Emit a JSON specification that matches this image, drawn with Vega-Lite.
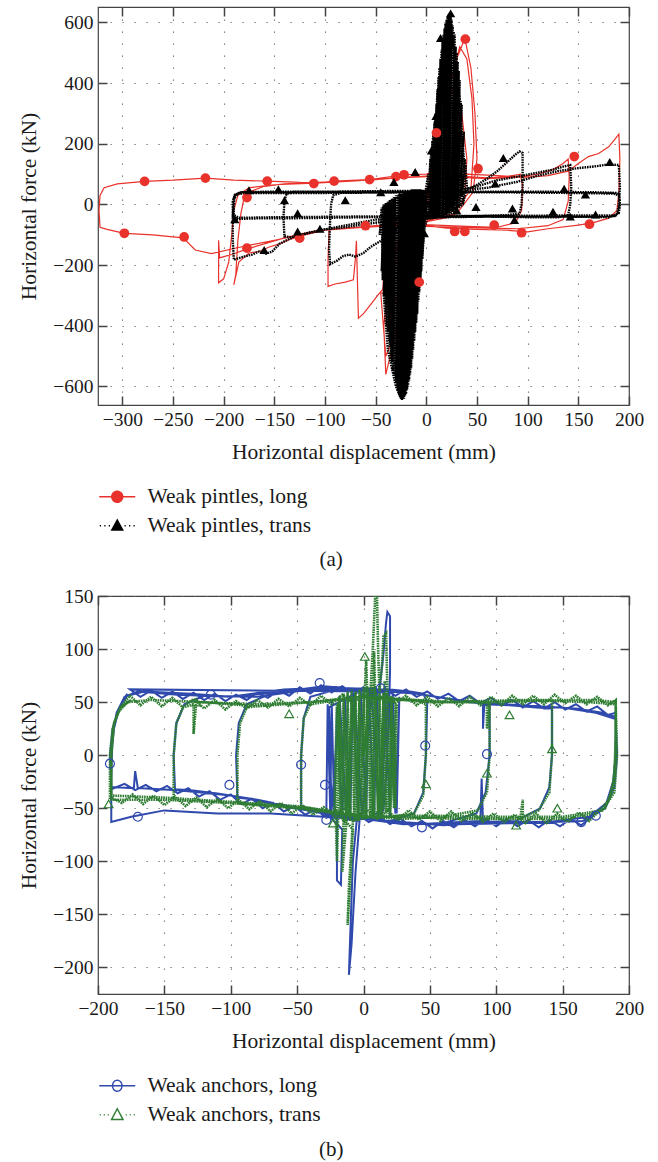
{
  "$schema": "https://vega.github.io/schema/vega-lite/v6.json",
  "background": "white",
  "padding": {"left": 18, "top": 5, "right": 5, "bottom": 0},
  "spacing": 14,
  "resolve": {"scale": {"color": "independent"}, "legend": {"color": "independent"}},
  "config": {
    "font": "Liberation Serif",
    "view": {"stroke": "#444", "strokeWidth": 1.2},
    "axis": {
      "domain": false,
      "labelFont": "Liberation Serif", "labelFontSize": 19.5, "labelColor": "#1a1a1a",
      "titleFont": "Liberation Serif", "titleFontSize": 21.5, "titleFontWeight": "normal", "titleColor": "#1a1a1a",
      "tickColor": "#444", "tickWidth": 1.5, "tickSize": -9, "labelPadding": 14,
      "grid": true, "gridColor": "#666", "gridDash": [1.2, 10.8], "gridWidth": 1.1,
      "labelFlush": false, "labelOverlap": false
    },
    "axisX": {"titlePadding": 13},
    "axisY": {"titlePadding": 12},
    "legend": {
      "padding": 0, "symbolSize": 100, "labelFont": "Liberation Serif", "labelFontSize": 21.5,
      "labelColor": "#1a1a1a", "labelOffset": 19.5, "rowPadding": 6, "labelLimit": 400
    },
    "title": {"font": "Liberation Serif", "fontSize": 21, "fontWeight": "normal", "color": "#1a1a1a", "anchor": "middle", "frame": "bounds"}
  },
  "datasets": {
    "aL": [
      {"x":0,"y":0},{"x":10,"y":150},{"x":20,"y":350},{"x":30,"y":480},{"x":38,"y":548},{"x":44,"y":450},{"x":48,"y":300},{"x":50,"y":150},{"x":46,"y":40},{"x":30,"y":-30},{"x":0,"y":-50},{"x":-20,"y":-80},{"x":-35,"y":-200},{"x":-42,"y":-400},{"x":-40,"y":-560},{"x":-32,"y":-450},{"x":-22,"y":-250},{"x":-10,"y":-60},{"x":0,"y":0},
      {"x":5,"y":60},{"x":15,"y":250},{"x":25,"y":420},{"x":33,"y":520},{"x":40,"y":480},{"x":45,"y":350},{"x":47,"y":200},{"x":44,"y":50},{"x":25,"y":-40},{"x":-5,"y":-60},{"x":-28,"y":-120},{"x":-38,"y":-300},{"x":-45,"y":-290},{"x":-40,"y":-500},{"x":-30,"y":-420},{"x":-18,"y":-200},{"x":-7,"y":-50},{"x":5,"y":60},
      {"x":8,"y":100},{"x":16,"y":280},{"x":28,"y":400},{"x":35,"y":300},{"x":40,"y":150},{"x":38,"y":40},{"x":20,"y":-30},{"x":-10,"y":-70},{"x":-30,"y":-180},{"x":-36,"y":-350},{"x":-28,"y":-300},{"x":-15,"y":-150},{"x":-5,"y":-30},{"x":8,"y":100},
      {"x":20,"y":95},{"x":40,"y":92},{"x":60,"y":88},{"x":80,"y":92},{"x":93,"y":100},{"x":95,"y":60},{"x":94,"y":-20},{"x":88,"y":-60},{"x":70,"y":-75},{"x":40,"y":-72},{"x":10,"y":-68},{"x":-20,"y":-65},{"x":-50,"y":-70},{"x":-75,"y":-78},{"x":-90,"y":-80},{"x":-96,"y":-85},{"x":-97,"y":-180},{"x":-97,"y":-270},{"x":-90,"y":-262},{"x":-80,"y":-256},{"x":-72,"y":-248},{"x":-70,"y":-180},{"x":-69,"y":-120},{"x":-68,"y":-250},{"x":-67,"y":-375},{"x":-62,"y":-360},{"x":-55,"y":-330},{"x":-48,"y":-300},{"x":-43,"y":-280},{"x":-40,"y":-150},{"x":-30,"y":-60},{"x":-10,"y":20},{"x":10,"y":80},
      {"x":30,"y":90},{"x":60,"y":85},{"x":90,"y":90},{"x":110,"y":100},{"x":125,"y":115},{"x":135,"y":135},{"x":140,"y":150},{"x":141,"y":90},{"x":140,"y":10},{"x":135,"y":-50},{"x":120,"y":-70},{"x":90,"y":-80},{"x":60,"y":-78},{"x":30,"y":-75},{"x":0,"y":-72},{"x":-30,"y":-70},{"x":-60,"y":-75},{"x":-100,"y":-85},{"x":-120,"y":-100},{"x":-135,"y":-115},{"x":-145,"y":-130},{"x":-155,"y":-140},{"x":-165,"y":-155},{"x":-175,"y":-160},{"x":-185,"y":-190},{"x":-190,"y":-265},{"x":-188,"y":-230},{"x":-186,"y":-120},{"x":-183,"y":-30},{"x":-180,"y":20},{"x":-172,"y":45},{"x":-160,"y":60},{"x":-140,"y":68},{"x":-110,"y":72},{"x":-80,"y":78},{"x":-50,"y":82},{"x":-20,"y":90},{"x":10,"y":95},
      {"x":40,"y":100},{"x":70,"y":95},{"x":100,"y":90},{"x":120,"y":95},{"x":140,"y":110},{"x":150,"y":135},{"x":160,"y":158},{"x":170,"y":168},{"x":180,"y":190},{"x":186,"y":215},{"x":190,"y":232},{"x":191,"y":150},{"x":190,"y":40},{"x":188,"y":-20},{"x":180,"y":-45},{"x":165,"y":-60},{"x":150,"y":-68},{"x":120,"y":-80},{"x":100,"y":-90},{"x":80,"y":-85},{"x":50,"y":-82},{"x":20,"y":-78},{"x":0,"y":-70},{"x":-40,"y":-70},{"x":-80,"y":-78},{"x":-110,"y":-88},{"x":-140,"y":-110},{"x":-160,"y":-130},{"x":-178,"y":-148},{"x":-192,"y":-165},{"x":-198,"y":-170},{"x":-204,"y":-176},{"x":-205,"y":-118},{"x":-205,"y":-258},{"x":-200,"y":-245},{"x":-195,"y":-190},{"x":-192,"y":-100},{"x":-190,"y":-20},{"x":-186,"y":30},{"x":-175,"y":55},{"x":-150,"y":65},{"x":-110,"y":70},{"x":-70,"y":78},{"x":-30,"y":88},{"x":0,"y":92},
      {"x":20,"y":60},{"x":10,"y":0},{"x":0,"y":-62},{"x":-50,"y":-72},{"x":-100,"y":-85},{"x":-150,"y":-118},{"x":-190,"y":-145},{"x":-212,"y":-162},{"x":-228,"y":-150},{"x":-240,"y":-110},{"x":-270,"y":-100},{"x":-298,"y":-95},{"x":-315,"y":-82},{"x":-322,"y":-75},{"x":-323,"y":-20},{"x":-322,"y":30},{"x":-318,"y":55},{"x":-305,"y":68},{"x":-278,"y":76},{"x":-250,"y":80},{"x":-218,"y":87},{"x":-190,"y":80},{"x":-157,"y":77},{"x":-130,"y":74},{"x":-111,"y":70},{"x":-91,"y":77},{"x":-56,"y":82},{"x":-22,"y":98},{"x":0,"y":100},{"x":10,"y":110}
    ],
    "aT": [
      {"x":-5,"y":-40},{"x":2,"y":100},{"x":0,"y":-45},{"x":5,"y":180},{"x":2,"y":-45},{"x":7,"y":240},{"x":4,"y":-45},{"x":9,"y":300},{"x":6,"y":-45},{"x":11,"y":380},{"x":8,"y":-45},{"x":13,"y":450},{"x":10,"y":-45},{"x":15,"y":510},{"x":12,"y":-40},{"x":17,"y":560},{"x":14,"y":-40},{"x":19,"y":600},{"x":16,"y":-40},{"x":21,"y":620},{"x":18,"y":-35},{"x":23,"y":630},{"x":20,"y":-35},{"x":25,"y":610},{"x":22,"y":-30},{"x":27,"y":570},{"x":24,"y":-30},{"x":29,"y":520},{"x":26,"y":-25},{"x":31,"y":470},{"x":28,"y":-20},{"x":33,"y":410},{"x":30,"y":-15},{"x":35,"y":330},{"x":32,"y":-10},{"x":37,"y":240},{"x":34,"y":-5},{"x":39,"y":130},{"x":36,"y":0},{"x":40,"y":60},
      {"x":38,"y":150},{"x":35,"y":30},{"x":34,"y":340},{"x":31,"y":20},{"x":32,"y":440},{"x":29,"y":10},{"x":30,"y":500},{"x":27,"y":0},{"x":28,"y":560},{"x":25,"y":-10},{"x":26,"y":590},{"x":23,"y":-20},{"x":24,"y":620},{"x":21,"y":-30},{"x":22,"y":625},{"x":19,"y":-30},{"x":20,"y":610},{"x":17,"y":-35},{"x":18,"y":580},{"x":15,"y":-40},{"x":16,"y":540},{"x":13,"y":-40},{"x":14,"y":480},{"x":11,"y":-45},{"x":12,"y":420},{"x":9,"y":-45},{"x":10,"y":330},{"x":7,"y":-45},{"x":8,"y":270},{"x":5,"y":-45},{"x":6,"y":210},{"x":3,"y":-45},{"x":4,"y":150},{"x":1,"y":-45},
      {"x":-2,"y":-80},{"x":0,"y":40},{"x":-4,"y":-180},{"x":-2,"y":45},{"x":-6,"y":-260},{"x":-4,"y":45},{"x":-8,"y":-320},{"x":-6,"y":50},{"x":-10,"y":-390},{"x":-8,"y":50},{"x":-12,"y":-450},{"x":-10,"y":50},{"x":-14,"y":-510},{"x":-12,"y":50},{"x":-16,"y":-560},{"x":-14,"y":50},{"x":-18,"y":-600},{"x":-16,"y":45},{"x":-20,"y":-625},{"x":-18,"y":45},{"x":-22,"y":-640},{"x":-20,"y":40},{"x":-24,"y":-645},{"x":-22,"y":40},{"x":-26,"y":-635},{"x":-24,"y":35},{"x":-28,"y":-615},{"x":-26,"y":35},{"x":-30,"y":-590},{"x":-28,"y":30},{"x":-32,"y":-560},{"x":-30,"y":30},{"x":-34,"y":-520},{"x":-32,"y":25},{"x":-36,"y":-470},{"x":-34,"y":20},{"x":-38,"y":-420},{"x":-36,"y":15},{"x":-40,"y":-360},{"x":-38,"y":10},{"x":-42,"y":-300},{"x":-40,"y":5},{"x":-44,"y":-220},{"x":-42,"y":0},{"x":-46,"y":-100},{"x":-44,"y":-10},
      {"x":-43,"y":-250},{"x":-41,"y":0},{"x":-41,"y":-330},{"x":-39,"y":5},{"x":-39,"y":-400},{"x":-37,"y":10},{"x":-37,"y":-450},{"x":-35,"y":15},{"x":-35,"y":-500},{"x":-33,"y":20},{"x":-33,"y":-545},{"x":-31,"y":25},{"x":-31,"y":-575},{"x":-29,"y":30},{"x":-29,"y":-600},{"x":-27,"y":35},{"x":-27,"y":-625},{"x":-25,"y":35},{"x":-25,"y":-640},{"x":-23,"y":40},{"x":-23,"y":-640},{"x":-21,"y":40},{"x":-21,"y":-630},{"x":-19,"y":45},{"x":-19,"y":-610},{"x":-17,"y":45},{"x":-17,"y":-580},{"x":-15,"y":50},{"x":-15,"y":-540},{"x":-13,"y":50},{"x":-13,"y":-480},{"x":-11,"y":50},{"x":-11,"y":-420},{"x":-9,"y":50},{"x":-9,"y":-360},{"x":-7,"y":45},{"x":-7,"y":-290},{"x":-5,"y":45},{"x":-5,"y":-220},{"x":-3,"y":40},{"x":-3,"y":-130},{"x":0,"y":0},
      {"x":-25,"y":-640},{"x":-18,"y":-400},{"x":-10,"y":-120},{"x":-2,"y":0},{"x":8,"y":150},{"x":12,"y":350},{"x":18,"y":550},{"x":22,"y":625},{"x":28,"y":500},{"x":33,"y":350},{"x":38,"y":100},{"x":36,"y":0},{"x":20,"y":-40},{"x":-10,"y":-50},{"x":-35,"y":-100},{"x":-42,"y":-300},{"x":-38,"y":-480},{"x":-30,"y":-600},{"x":-25,"y":-640},
      {"x":-28,"y":-300},{"x":-15,"y":-60},{"x":0,"y":0},{"x":20,"y":30},
      {"x":35,"y":40},{"x":50,"y":65},{"x":60,"y":85},{"x":70,"y":110},{"x":80,"y":140},{"x":88,"y":165},{"x":92,"y":175},{"x":95,"y":170},{"x":95,"y":60},{"x":94,"y":0},{"x":92,"y":-30},{"x":80,"y":-35},{"x":50,"y":-38},{"x":20,"y":-40},{"x":0,"y":-45},{"x":-20,"y":-60},{"x":-35,"y":-90},{"x":-45,"y":-120},{"x":-55,"y":-140},{"x":-62,"y":-160},{"x":-70,"y":-172},{"x":-76,"y":-165},{"x":-82,"y":-170},{"x":-88,"y":-185},{"x":-95,"y":-197},{"x":-96,"y":-150},{"x":-95,"y":-60},{"x":-94,"y":0},{"x":-92,"y":30},{"x":-85,"y":38},{"x":-60,"y":40},{"x":-20,"y":42},{"x":0,"y":45},{"x":30,"y":50},
      {"x":45,"y":55},{"x":70,"y":80},{"x":95,"y":95},{"x":110,"y":105},{"x":125,"y":115},{"x":135,"y":125},{"x":142,"y":130},{"x":143,"y":60},{"x":142,"y":0},{"x":140,"y":-35},{"x":130,"y":-42},{"x":100,"y":-42},{"x":60,"y":-40},{"x":20,"y":-42},{"x":-20,"y":-48},{"x":-50,"y":-60},{"x":-80,"y":-75},{"x":-100,"y":-82},{"x":-115,"y":-92},{"x":-125,"y":-100},{"x":-133,"y":-108},{"x":-140,"y":-105},{"x":-141,"y":-40},{"x":-140,"y":10},{"x":-138,"y":35},{"x":-130,"y":42},{"x":-100,"y":42},{"x":-50,"y":44},{"x":0,"y":45},{"x":40,"y":48},
      {"x":60,"y":55},{"x":90,"y":75},{"x":110,"y":95},{"x":130,"y":110},{"x":150,"y":120},{"x":165,"y":125},{"x":180,"y":132},{"x":190,"y":130},{"x":191,"y":60},{"x":190,"y":0},{"x":188,"y":-35},{"x":180,"y":-42},{"x":140,"y":-40},{"x":100,"y":-40},{"x":50,"y":-40},{"x":0,"y":-42},{"x":-50,"y":-50},{"x":-100,"y":-82},{"x":-130,"y":-105},{"x":-145,"y":-130},{"x":-152,"y":-155},{"x":-158,"y":-162},{"x":-165,"y":-155},{"x":-172,"y":-165},{"x":-180,"y":-172},{"x":-190,"y":-182},{"x":-191,"y":-120},{"x":-191,"y":-40},{"x":-190,"y":0},{"x":-189,"y":30},{"x":-184,"y":40},{"x":-160,"y":42},{"x":-100,"y":42},{"x":-50,"y":42},{"x":0,"y":42},{"x":60,"y":42},{"x":120,"y":42},{"x":170,"y":40},{"x":188,"y":38},
      {"x":190,"y":36},{"x":191,"y":10},{"x":190,"y":-25},{"x":186,"y":-38},{"x":150,"y":-40},{"x":100,"y":-40},{"x":50,"y":-40},{"x":0,"y":-40},{"x":-60,"y":-42},{"x":-120,"y":-45},{"x":-170,"y":-46},{"x":-188,"y":-48},{"x":-191,"y":-40},{"x":-191,"y":10},{"x":-189,"y":32},{"x":-183,"y":40},{"x":-140,"y":40},{"x":-80,"y":40},{"x":0,"y":40},{"x":80,"y":40},{"x":140,"y":38},{"x":185,"y":36},{"x":190,"y":30},{"x":191,"y":0},{"x":190,"y":-28},{"x":185,"y":-36},{"x":140,"y":-36},{"x":60,"y":-38},{"x":0,"y":-38},{"x":-80,"y":-40},{"x":-150,"y":-42},{"x":-185,"y":-44},{"x":-190,"y":-35},{"x":-190,"y":20},{"x":-186,"y":35},{"x":-170,"y":38},{"x":-100,"y":38},{"x":-20,"y":40},{"x":10,"y":45}
    ],
    "aLm": [
      {"x":-278,"y":76},{"x":-218,"y":87},{"x":-157,"y":77},{"x":-111,"y":69},{"x":-91,"y":77},{"x":-56,"y":82},{"x":-22,"y":98},{"x":10,"y":236},{"x":38.5,"y":545},{"x":51,"y":118},{"x":146,"y":158},{"x":-298,"y":-95},{"x":-239,"y":-107},{"x":-177,"y":-144},{"x":-125,"y":-111},{"x":-7,"y":-256},{"x":28,"y":-89},{"x":38,"y":-89},{"x":94,"y":-93},{"x":161,"y":-65},{"x":67,"y":-68},{"x":-177,"y":23},{"x":-60,"y":-70},{"x":-30,"y":92}
    ],
    "aTm": [
      {"x":24,"y":630},{"x":14,"y":549},{"x":9.5,"y":292},{"x":5,"y":178},{"x":-175,"y":47},{"x":-146,"y":50},{"x":-140,"y":14},{"x":-189,"y":-49},{"x":-127,"y":-29},{"x":-127,"y":-89},{"x":-32,"y":74},{"x":-11,"y":107},{"x":-1,"y":9},{"x":76,"y":153},{"x":49,"y":-8},{"x":85,"y":-13},{"x":87,"y":-51},{"x":136,"y":52},{"x":142,"y":-40},{"x":157,"y":33},{"x":167,"y":-33},{"x":181,"y":140},{"x":125,"y":-24},{"x":68,"y":69},{"x":-80,"y":14},{"x":-2,"y":-95},{"x":-160,"y":-150},{"x":-105,"y":-80},{"x":-45,"y":40},{"x":0,"y":-30},{"x":10,"y":50},{"x":30,"y":-20},{"x":-15,"y":-60}
    ],
    "bL": [
      {"x":0,"y":0},{"x":4,"y":40},{"x":8,"y":58},{"x":12,"y":62},{"x":15,"y":95},{"x":17,"y":125},{"x":18,"y":135},{"x":20,"y":131},{"x":20,"y":80},{"x":19,"y":30},{"x":17,"y":-20},{"x":15,"y":-52},{"x":5,"y":-58},{"x":-5,"y":-60},{"x":-8,"y":-100},{"x":-10,"y":-170},{"x":-11,"y":-207},{"x":-9,"y":-178},{"x":-6,"y":-110},{"x":-3,"y":-62},{"x":-20,"y":-58},{"x":-20,"y":-118},{"x":-17,"y":-122},{"x":-16,"y":-70},
      {"x":-28,"y":-55},{"x":-27,"y":48},{"x":-25,"y":-58},{"x":-24,"y":52},{"x":-22,"y":-55},{"x":-20,"y":45},{"x":-16,"y":-58},{"x":-14,"y":55},{"x":-10,"y":-60},{"x":-8,"y":58},{"x":-4,"y":-62},{"x":-2,"y":60},{"x":2,"y":-60},{"x":4,"y":62},{"x":8,"y":-62},{"x":10,"y":60},{"x":14,"y":-60},{"x":16,"y":60},{"x":20,"y":-58},{"x":22,"y":58},{"x":25,"y":-55},{"x":27,"y":55},{"x":24,"y":-55},{"x":19,"y":62},{"x":12,"y":-62},{"x":6,"y":64},{"x":-1,"y":-60},{"x":-7,"y":60},{"x":-13,"y":-58},{"x":-18,"y":56},{"x":-24,"y":-52},{"x":-26,"y":45},{"x":0,"y":62},
      {"x":20,"y":62},{"x":35,"y":60},{"x":45,"y":58},{"x":48,"y":50},{"x":47,"y":0},{"x":45,"y":-35},{"x":38,"y":-55},{"x":20,"y":-62},{"x":0,"y":-60},{"x":-20,"y":-58},{"x":-40,"y":-52},{"x":-47,"y":-48},{"x":-47,"y":0},{"x":-45,"y":35},{"x":-40,"y":55},{"x":-20,"y":62},{"x":0,"y":63},
      {"x":30,"y":60},{"x":45,"y":57},{"x":60,"y":54},{"x":85,"y":50},{"x":95,"y":46},{"x":95,"y":0},{"x":92,"y":-35},{"x":85,"y":-55},{"x":60,"y":-64},{"x":30,"y":-65},{"x":0,"y":-60},{"x":-30,"y":-55},{"x":-60,"y":-48},{"x":-80,"y":-42},{"x":-95,"y":-40},{"x":-96,"y":0},{"x":-94,"y":30},{"x":-88,"y":48},{"x":-70,"y":58},{"x":-40,"y":62},{"x":0,"y":62},
      {"x":40,"y":58},{"x":80,"y":50},{"x":90,"y":49},{"x":90,"y":25},{"x":91,"y":48},{"x":110,"y":47},{"x":130,"y":45},{"x":142,"y":44},{"x":142,"y":0},{"x":140,"y":-30},{"x":133,"y":-50},{"x":115,"y":-62},{"x":90,"y":-63},{"x":89,"y":-22},{"x":88,"y":-62},{"x":40,"y":-65},{"x":0,"y":-60},{"x":-40,"y":-52},{"x":-80,"y":-42},{"x":-110,"y":-36},{"x":-130,"y":-33},{"x":-142,"y":-32},{"x":-143,"y":0},{"x":-141,"y":30},{"x":-135,"y":48},{"x":-120,"y":56},{"x":-80,"y":55},{"x":-40,"y":62},{"x":0,"y":62},
      {"x":40,"y":58},{"x":80,"y":50},{"x":120,"y":47},{"x":160,"y":44},{"x":180,"y":40},{"x":190,"y":36},{"x":190,"y":0},{"x":188,"y":-25},{"x":183,"y":-45},{"x":170,"y":-58},{"x":140,"y":-63},{"x":100,"y":-63},{"x":60,"y":-66},{"x":20,"y":-62},{"x":-20,"y":-55},{"x":-60,"y":-48},{"x":-100,"y":-38},{"x":-140,"y":-33},{"x":-170,"y":-31},{"x":-172,"y":-15},{"x":-173,"y":-31},{"x":-190,"y":-30},{"x":-191,"y":0},{"x":-189,"y":25},{"x":-185,"y":42},{"x":-178,"y":56},{"x":-165,"y":60},{"x":-130,"y":58},{"x":-100,"y":55},{"x":-60,"y":60},{"x":-30,"y":65},{"x":0,"y":62},
      {"x":30,"y":60},{"x":70,"y":52},{"x":110,"y":47},{"x":150,"y":45},{"x":175,"y":40},{"x":190,"y":34},{"x":191,"y":0},{"x":189,"y":-30},{"x":182,"y":-50},{"x":165,"y":-62},{"x":120,"y":-64},{"x":70,"y":-65},{"x":30,"y":-64},{"x":0,"y":-60},{"x":-30,"y":-58},{"x":-70,"y":-55},{"x":-110,"y":-55},{"x":-150,"y":-52},{"x":-175,"y":-58},{"x":-190,"y":-63},{"x":-190,"y":-20},{"x":-189,"y":20},{"x":-186,"y":40},{"x":-180,"y":55},{"x":-170,"y":60},{"x":-140,"y":57},{"x":-100,"y":55},{"x":-60,"y":62},{"x":-20,"y":64},{"x":10,"y":60},
      {"x":-176,"y":62},{"x":-168,"y":55},{"x":-160,"y":61},{"x":-152,"y":54},{"x":-144,"y":60},{"x":-136,"y":53},{"x":-128,"y":59},{"x":-120,"y":52},{"x":-112,"y":58},{"x":-104,"y":51},{"x":-96,"y":57},{"x":-88,"y":52},{"x":-80,"y":59},{"x":-72,"y":54},{"x":-64,"y":61},{"x":-56,"y":56},{"x":-48,"y":64},{"x":-40,"y":58},{"x":-32,"y":66},{"x":-24,"y":59},{"x":-16,"y":65},{"x":-8,"y":58},{"x":0,"y":64},{"x":8,"y":57},{"x":16,"y":63},{"x":24,"y":56},{"x":32,"y":62},{"x":40,"y":55},{"x":48,"y":60},{"x":56,"y":53},{"x":64,"y":58},{"x":72,"y":51},{"x":80,"y":56},{"x":88,"y":49},{"x":96,"y":54},{"x":104,"y":47},{"x":112,"y":52},{"x":120,"y":45},{"x":128,"y":51},{"x":136,"y":44},{"x":144,"y":50},{"x":152,"y":43},{"x":160,"y":48},{"x":168,"y":41},{"x":176,"y":46},{"x":184,"y":38},{"x":190,"y":40},
      {"x":190,"y":0},{"x":188,"y":-25},{"x":183,"y":-45},{"x":172,"y":-58},
      {"x":164,"y":-66},{"x":156,"y":-60},{"x":148,"y":-67},{"x":140,"y":-61},{"x":132,"y":-68},{"x":124,"y":-61},{"x":116,"y":-67},{"x":108,"y":-60},{"x":100,"y":-67},{"x":92,"y":-60},{"x":84,"y":-67},{"x":76,"y":-61},{"x":68,"y":-68},{"x":60,"y":-62},{"x":52,"y":-69},{"x":44,"y":-62},{"x":36,"y":-67},{"x":28,"y":-60},{"x":20,"y":-65},{"x":12,"y":-58},{"x":4,"y":-63},{"x":-4,"y":-56},{"x":-12,"y":-61},{"x":-20,"y":-54},{"x":-28,"y":-59},{"x":-36,"y":-51},{"x":-44,"y":-56},{"x":-52,"y":-48},{"x":-60,"y":-53},{"x":-68,"y":-45},{"x":-76,"y":-50},{"x":-84,"y":-41},{"x":-92,"y":-46},{"x":-100,"y":-37},{"x":-108,"y":-42},{"x":-116,"y":-34},{"x":-124,"y":-39},{"x":-132,"y":-31},{"x":-140,"y":-36},{"x":-148,"y":-29},{"x":-156,"y":-34},{"x":-164,"y":-28},{"x":-172,"y":-33},{"x":-180,"y":-27},{"x":-190,"y":-32},
      {"x":-190,"y":0},{"x":-188,"y":25},{"x":-184,"y":45},{"x":-178,"y":58}
    ],
    "bT": [
      {"x":0,"y":0},{"x":5,"y":55},{"x":7,"y":100},{"x":9,"y":155},{"x":10,"y":160},{"x":11,"y":100},{"x":12,"y":60},{"x":14,"y":85},{"x":15,"y":112},{"x":17,"y":115},{"x":18,"y":60},{"x":17,"y":0},{"x":15,"y":-50},{"x":5,"y":-58},{"x":-8,"y":-62},{"x":-11,"y":-125},{"x":-12,"y":-160},{"x":-10,"y":-120},{"x":-8,"y":-70},{"x":-15,"y":-60},{"x":-16,"y":-110},{"x":-13,"y":-65},
      {"x":-22,"y":-50},{"x":-20,"y":48},{"x":-17,"y":-55},{"x":-15,"y":52},{"x":-11,"y":-58},{"x":-9,"y":55},{"x":-5,"y":-60},{"x":-3,"y":58},{"x":1,"y":-58},{"x":3,"y":60},{"x":7,"y":-60},{"x":9,"y":58},{"x":13,"y":-58},{"x":15,"y":56},{"x":19,"y":-55},{"x":21,"y":55},{"x":24,"y":-50},{"x":25,"y":48},{"x":20,"y":-55},{"x":16,"y":70},{"x":11,"y":-60},{"x":8,"y":98},{"x":6,"y":-58},{"x":2,"y":90},{"x":-3,"y":-55},{"x":-8,"y":52},{"x":-14,"y":-52},{"x":-19,"y":50},
      {"x":-21,"y":-52},{"x":-20,"y":-100},{"x":-19,"y":-55},{"x":-18,"y":55},{"x":-16,"y":-60},{"x":-15,"y":58},{"x":-13,"y":-62},{"x":-12,"y":60},{"x":-10,"y":-62},{"x":-9,"y":62},{"x":-7,"y":-62},{"x":-6,"y":60},{"x":-4,"y":-62},{"x":-3,"y":62},{"x":-1,"y":-60},{"x":0,"y":64},{"x":2,"y":-60},{"x":3,"y":64},{"x":5,"y":-58},{"x":6,"y":66},{"x":8,"y":-58},{"x":9,"y":64},{"x":11,"y":-58},{"x":12,"y":62},{"x":14,"y":-56},{"x":15,"y":60},{"x":17,"y":-55},{"x":18,"y":58},{"x":20,"y":-52},{"x":21,"y":56},{"x":23,"y":-50},{"x":24,"y":50},{"x":0,"y":55},
      {"x":20,"y":52},{"x":40,"y":52},{"x":47,"y":48},{"x":47,"y":0},{"x":45,"y":-38},{"x":38,"y":-55},{"x":20,"y":-58},{"x":0,"y":-58},{"x":-20,"y":-55},{"x":-40,"y":-50},{"x":-47,"y":-48},{"x":-47,"y":0},{"x":-45,"y":35},{"x":-40,"y":48},{"x":-20,"y":52},{"x":0,"y":55},
      {"x":40,"y":52},{"x":70,"y":50},{"x":93,"y":50},{"x":93,"y":25},{"x":95,"y":50},{"x":95,"y":0},{"x":93,"y":-35},{"x":86,"y":-52},{"x":60,"y":-58},{"x":30,"y":-60},{"x":0,"y":-58},{"x":-40,"y":-50},{"x":-70,"y":-47},{"x":-95,"y":-45},{"x":-95,"y":0},{"x":-93,"y":30},{"x":-88,"y":45},{"x":-70,"y":48},{"x":-40,"y":50},{"x":0,"y":55},
      {"x":50,"y":50},{"x":100,"y":50},{"x":130,"y":52},{"x":142,"y":52},{"x":142,"y":0},{"x":140,"y":-35},{"x":132,"y":-52},{"x":120,"y":-58},{"x":120,"y":-42},{"x":118,"y":-60},{"x":70,"y":-60},{"x":30,"y":-58},{"x":0,"y":-58},{"x":-50,"y":-50},{"x":-100,"y":-45},{"x":-130,"y":-43},{"x":-143,"y":-42},{"x":-143,"y":0},{"x":-141,"y":30},{"x":-136,"y":45},{"x":-128,"y":48},{"x":-128,"y":20},{"x":-126,"y":50},{"x":-80,"y":48},{"x":-40,"y":50},{"x":0,"y":55},
      {"x":50,"y":50},{"x":100,"y":50},{"x":150,"y":52},{"x":175,"y":52},{"x":190,"y":50},{"x":190,"y":0},{"x":188,"y":-30},{"x":182,"y":-50},{"x":170,"y":-56},{"x":150,"y":-60},{"x":100,"y":-60},{"x":50,"y":-58},{"x":0,"y":-58},{"x":-50,"y":-50},{"x":-100,"y":-45},{"x":-150,"y":-42},{"x":-180,"y":-42},{"x":-191,"y":-42},{"x":-191,"y":0},{"x":-189,"y":25},{"x":-185,"y":40},{"x":-178,"y":50},{"x":-160,"y":52},{"x":-120,"y":50},{"x":-80,"y":46},{"x":-40,"y":50},{"x":0,"y":55},
      {"x":60,"y":50},{"x":120,"y":52},{"x":170,"y":50},{"x":190,"y":48},{"x":191,"y":0},{"x":189,"y":-35},{"x":180,"y":-52},{"x":150,"y":-58},{"x":100,"y":-58},{"x":50,"y":-57},{"x":0,"y":-57},{"x":-50,"y":-48},{"x":-100,"y":-44},{"x":-150,"y":-40},{"x":-190,"y":-38},{"x":-190,"y":0},{"x":-188,"y":30},{"x":-183,"y":45},{"x":-175,"y":52},
      {"x":-184,"y":44},{"x":-176,"y":56},{"x":-168,"y":47},{"x":-160,"y":55},{"x":-152,"y":46},{"x":-144,"y":54},{"x":-136,"y":45},{"x":-128,"y":53},{"x":-120,"y":44},{"x":-112,"y":52},{"x":-104,"y":43},{"x":-96,"y":51},{"x":-88,"y":44},{"x":-80,"y":52},{"x":-72,"y":45},{"x":-64,"y":53},{"x":-56,"y":46},{"x":-48,"y":54},{"x":-40,"y":47},{"x":-32,"y":56},{"x":-24,"y":48},{"x":-16,"y":57},{"x":-8,"y":49},{"x":0,"y":58},{"x":8,"y":50},{"x":16,"y":58},{"x":24,"y":49},{"x":32,"y":56},{"x":40,"y":47},{"x":48,"y":55},{"x":56,"y":46},{"x":64,"y":54},{"x":72,"y":46},{"x":80,"y":55},{"x":88,"y":47},{"x":96,"y":55},{"x":104,"y":47},{"x":112,"y":56},{"x":120,"y":48},{"x":128,"y":56},{"x":136,"y":48},{"x":144,"y":57},{"x":152,"y":49},{"x":160,"y":56},{"x":168,"y":48},{"x":176,"y":55},{"x":184,"y":47},{"x":190,"y":52},
      {"x":190,"y":20},{"x":189,"y":-20},{"x":185,"y":-42},{"x":178,"y":-52},
      {"x":170,"y":-62},{"x":162,"y":-54},{"x":154,"y":-63},{"x":146,"y":-55},{"x":138,"y":-64},{"x":130,"y":-55},{"x":122,"y":-64},{"x":114,"y":-56},{"x":106,"y":-63},{"x":98,"y":-55},{"x":90,"y":-63},{"x":82,"y":-54},{"x":74,"y":-62},{"x":66,"y":-53},{"x":58,"y":-62},{"x":50,"y":-53},{"x":42,"y":-61},{"x":34,"y":-52},{"x":26,"y":-61},{"x":18,"y":-52},{"x":10,"y":-60},{"x":2,"y":-51},{"x":-6,"y":-59},{"x":-14,"y":-50},{"x":-22,"y":-58},{"x":-30,"y":-49},{"x":-38,"y":-56},{"x":-46,"y":-47},{"x":-54,"y":-55},{"x":-62,"y":-45},{"x":-70,"y":-53},{"x":-78,"y":-43},{"x":-86,"y":-51},{"x":-94,"y":-42},{"x":-102,"y":-50},{"x":-110,"y":-41},{"x":-118,"y":-49},{"x":-126,"y":-40},{"x":-134,"y":-48},{"x":-142,"y":-39},{"x":-150,"y":-47},{"x":-158,"y":-38},{"x":-166,"y":-46},{"x":-174,"y":-37},{"x":-182,"y":-45},{"x":-190,"y":-40},
      {"x":-190,"y":0},{"x":-188,"y":30},{"x":-184,"y":42}
    ],
    "bLm": [
      {"x":-191,"y":-8},{"x":-47,"y":-9},{"x":46.5,"y":9},{"x":93,"y":1},{"x":-170,"y":-58},{"x":-28,"y":-61},{"x":44,"y":-68},{"x":164,"y":-63},{"x":175,"y":-57},{"x":-33,"y":68},{"x":-101,"y":-28},{"x":-29,"y":-28},{"x":-115,"y":57},{"x":13,"y":63}
    ],
    "bTm": [
      {"x":142,"y":6},{"x":93,"y":-17},{"x":47,"y":-27},{"x":-192,"y":-46},{"x":146,"y":-50},{"x":1,"y":93},{"x":-23,"y":-64},{"x":115,"y":-66},{"x":110,"y":38},{"x":-56,"y":39},{"x":-126,"y":50}
    ]
  },
  "vconcat": [
    {
      "width": 531,
      "height": 398,
      "title": {"text": "(a)", "orient": "bottom", "offset": 11.5},
      "resolve": {"axis": {"x": "independent", "y": "independent"}},
      "layer": [
        {
          "data": {"name": "aL"},
          "mark": {"type": "line", "strokeWidth": 1.2, "clip": true},
          "encoding": {
            "x": {"field": "x", "type": "quantitative", "scale": {"domain": [-324, 200], "nice": false, "zero": false},
                  "axis": {"values": [-300, -250, -200, -150, -100, -50, 0, 50, 100, 150, 200], "title": "Horizontal displacement (mm)"}},
            "y": {"field": "y", "type": "quantitative", "scale": {"domain": [-661, 651], "nice": false, "zero": false},
                  "axis": {"values": [-600, -400, -200, 0, 200, 400, 600], "title": "Horizontal force (kN)"}},
            "color": {
              "datum": "Weak pintles, long", "type": "nominal",
              "scale": {"domain": ["Weak pintles, long", "Weak pintles, trans"], "range": ["#e8322b", "#000000"]},
              "legend": {
                "orient": "none", "legendX": 8.5, "legendY": 479, "title": null,
                "encode": {"symbols": {"update": {
                  "shape": {"signal": "datum.value === 'Weak pintles, long' ? 'M-3.6,0H3.6M-1.1,0A1.1,1.1 0 1,1 1.1,0A1.1,1.1 0 1,1 -1.1,0Z' : 'M-3.5,0h0.25M-2.6,0h0.25M-1.7,0h0.25M1.45,0h0.25M2.35,0h0.25M3.25,0h0.25M0,-1.15L1.1,0.85L-1.1,0.85Z'"},
                  "fill": {"signal": "datum.value === 'Weak pintles, long' ? '#e8322b' : '#000000'"},
                  "stroke": {"signal": "datum.value === 'Weak pintles, long' ? '#e8322b' : '#000000'"},
                  "strokeDash": {"value": [1, 0]},
                  "strokeWidth": {"value": 1.4},
                  "opacity": {"value": 1}
                }}}
              }
            },
            "order": {"value": null}
          }
        },
        {
          "data": {"name": "aT"},
          "mark": {"type": "line", "strokeWidth": 2.4, "strokeDash": [1.6, 0.9], "clip": true},
          "encoding": {
            "x": {"field": "x", "type": "quantitative", "axis": null},
            "y": {"field": "y", "type": "quantitative", "axis": null},
            "color": {"datum": "Weak pintles, trans", "type": "nominal"},
            "order": {"value": null}
          }
        },
        {
          "data": {"name": "aLm"},
          "mark": {"type": "point", "shape": "circle", "filled": true, "size": 95, "color": "#e8322b", "opacity": 1, "clip": true},
          "encoding": {
            "x": {"field": "x", "type": "quantitative",
                  "axis": {"orient": "top", "values": [-300, -250, -200, -150, -100, -50, 0, 50, 100, 150, 200], "labels": false, "title": null, "grid": false}},
            "y": {"field": "y", "type": "quantitative",
                  "axis": {"orient": "right", "values": [-600, -400, -200, 0, 200, 400, 600], "labels": false, "title": null, "grid": false}}
          }
        },
        {
          "data": {"name": "aTm"},
          "mark": {"type": "point", "shape": "triangle-up", "filled": true, "size": 85, "color": "#000000", "opacity": 1, "clip": true},
          "encoding": {
            "x": {"field": "x", "type": "quantitative", "axis": null},
            "y": {"field": "y", "type": "quantitative", "axis": null}
          }
        }
      ]
    },
    {
      "width": 531,
      "height": 398,
      "title": {"text": "(b)", "orient": "bottom", "offset": 12.5},
      "resolve": {"axis": {"x": "independent", "y": "independent"}},
      "layer": [
        {
          "data": {"name": "bL"},
          "mark": {"type": "line", "strokeWidth": 2, "clip": true},
          "encoding": {
            "x": {"field": "x", "type": "quantitative", "scale": {"domain": [-200, 200], "nice": false, "zero": false},
                  "axis": {"values": [-200, -150, -100, -50, 0, 50, 100, 150, 200], "title": "Horizontal displacement (mm)"}},
            "y": {"field": "y", "type": "quantitative", "scale": {"domain": [-225, 150], "nice": false, "zero": false},
                  "axis": {"values": [-200, -150, -100, -50, 0, 50, 100, 150], "title": "Horizontal force (kN)"}},
            "color": {
              "datum": "Weak anchors, long", "type": "nominal",
              "scale": {"domain": ["Weak anchors, long", "Weak anchors, trans"], "range": ["#3049ad", "#2e7d32"]},
              "legend": {
                "orient": "none", "legendX": 8.5, "legendY": 479, "title": null,
                "encode": {"symbols": {"update": {
                  "shape": {"signal": "datum.value === 'Weak anchors, long' ? 'M-3.6,0H3.6M-0.95,0A0.95,1.1 0 1,1 0.95,0A0.95,1.1 0 1,1 -0.95,0Z' : 'M-3.5,0h0.2M-2.7,0h0.2M-1.9,0h0.2M1.7,0h0.2M2.5,0h0.2M3.3,0h0.2M0,-1.2L1.15,0.95L-1.15,0.95Z'"},
                  "fill": {"value": "transparent"},
                  "stroke": {"signal": "datum.value === 'Weak anchors, long' ? '#3049ad' : '#2e7d32'"},
                  "strokeDash": {"value": [1, 0]},
                  "strokeWidth": {"value": 1.4},
                  "opacity": {"value": 1}
                }}}
              }
            },
            "order": {"value": null}
          }
        },
        {
          "data": {"name": "bT"},
          "mark": {"type": "line", "strokeWidth": 2.6, "strokeDash": [1.6, 0.8], "clip": true},
          "encoding": {
            "x": {"field": "x", "type": "quantitative", "axis": null},
            "y": {"field": "y", "type": "quantitative", "axis": null},
            "color": {"datum": "Weak anchors, trans", "type": "nominal"},
            "order": {"value": null}
          }
        },
        {
          "data": {"name": "bLm"},
          "mark": {"type": "point", "shape": "circle", "filled": false, "size": 80, "color": "#3049ad", "strokeWidth": 1.2, "opacity": 1, "clip": true},
          "encoding": {
            "x": {"field": "x", "type": "quantitative",
                  "axis": {"orient": "top", "values": [-200, -150, -100, -50, 0, 50, 100, 150, 200], "labels": false, "title": null, "grid": false}},
            "y": {"field": "y", "type": "quantitative",
                  "axis": {"orient": "right", "values": [-200, -150, -100, -50, 0, 50, 100, 150], "labels": false, "title": null, "grid": false}}
          }
        },
        {
          "data": {"name": "bTm"},
          "mark": {"type": "point", "shape": "triangle-up", "filled": false, "size": 75, "color": "#2e7d32", "strokeWidth": 1.2, "opacity": 1, "clip": true},
          "encoding": {
            "x": {"field": "x", "type": "quantitative", "axis": null},
            "y": {"field": "y", "type": "quantitative", "axis": null}
          }
        }
      ]
    }
  ]
}
